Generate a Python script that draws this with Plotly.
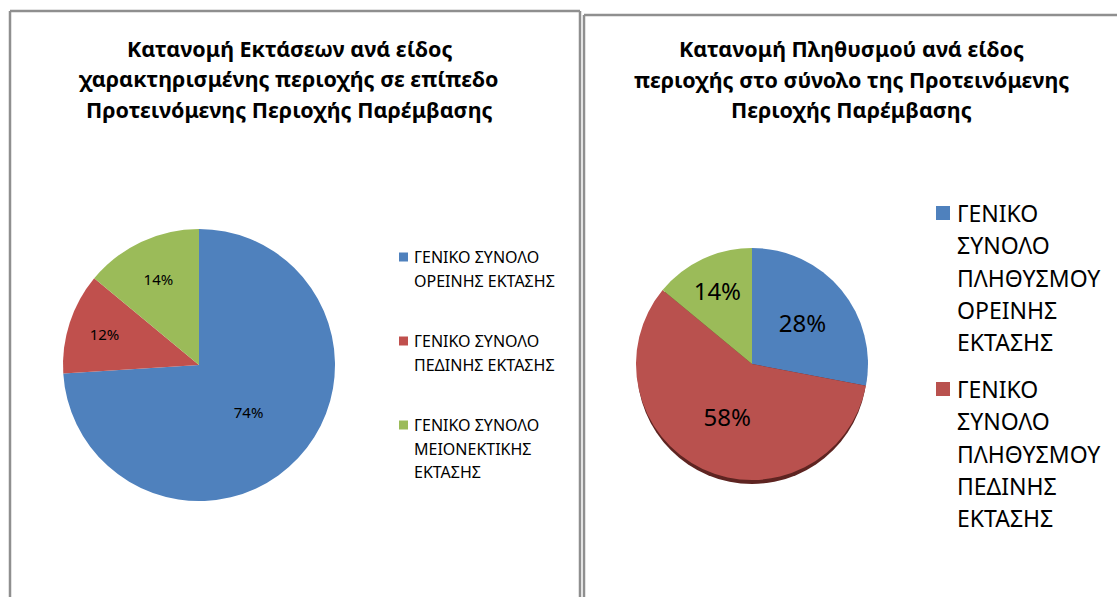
import plotly.graph_objects as go

W, H = 1117, 597

# ─── Data ───────────────────────────────────────────
area_labels = [
    "ΓΕΝΙΚΟ ΣΥΝΟΛΟ ΟΡΕΙΝΗΣ ΕΚΤΑΣΗΣ",
    "ΓΕΝΙΚΟ ΣΥΝΟΛΟ ΠΕΔΙΝΗΣ ΕΚΤΑΣΗΣ",
    "ΓΕΝΙΚΟ ΣΥΝΟΛΟ ΜΕΙΟΝΕΚΤΙΚΗΣ ΕΚΤΑΣΗΣ",
]
area_values = [74, 12, 14]
area_legend_lines = [
    ["ΓΕΝΙΚΟ ΣΥΝΟΛΟ", "ΟΡΕΙΝΗΣ ΕΚΤΑΣΗΣ"],
    ["ΓΕΝΙΚΟ ΣΥΝΟΛΟ", "ΠΕΔΙΝΗΣ ΕΚΤΑΣΗΣ"],
    ["ΓΕΝΙΚΟ ΣΥΝΟΛΟ", "ΜΕΙΟΝΕΚΤΙΚΗΣ", "ΕΚΤΑΣΗΣ"],
]

pop_labels = [
    "ΓΕΝΙΚΟ ΣΥΝΟΛΟ ΠΛΗΘΥΣΜΟΥ ΟΡΕΙΝΗΣ ΕΚΤΑΣΗΣ",
    "ΓΕΝΙΚΟ ΣΥΝΟΛΟ ΠΛΗΘΥΣΜΟΥ ΠΕΔΙΝΗΣ ΕΚΤΑΣΗΣ",
    "ΓΕΝΙΚΟ ΣΥΝΟΛΟ ΠΛΗΘΥΣΜΟΥ ΜΕΙΟΝΕΚΤΙΚΗΣ ΕΚΤΑΣΗΣ",
]
pop_values = [28, 58, 14]
pop_legend_lines = [
    ["ΓΕΝΙΚΟ", "ΣΥΝΟΛΟ", "ΠΛΗΘΥΣΜΟΥ", "ΟΡΕΙΝΗΣ", "ΕΚΤΑΣΗΣ"],
    ["ΓΕΝΙΚΟ", "ΣΥΝΟΛΟ", "ΠΛΗΘΥΣΜΟΥ", "ΠΕΔΙΝΗΣ", "ΕΚΤΑΣΗΣ"],
]

left_title = ["Κατανομή Εκτάσεων ανά είδος",
              "χαρακτηρισμένης περιοχής σε επίπεδο",
              "Προτεινόμενης Περιοχής Παρέμβασης"]
right_title = ["Κατανομή Πληθυσμού ανά είδος",
               "περιοχής στο σύνολο της Προτεινόμενης",
               "Περιοχής Παρέμβασης"]

COLORS = ["#4F81BD", "#C0504D", "#9BBB59"]
POP_COLORS = ["#4F81BD", "#B9514E", "#9BBB59"]
FONT = "Noto Sans"
BORDER = "#8f8f8f"


def px(x):
    return x / W


def py(y):
    return 1 - y / H


fig = go.Figure()

# αριστερή πίτα
fig.add_trace(
    go.Pie(
        labels=area_labels,
        values=area_values,
        sort=False,
        direction="clockwise",
        rotation=0,
        marker=dict(colors=COLORS),
        texttemplate="%{percent:.0%}",
        textposition="inside",
        insidetextorientation="horizontal",
        textfont=dict(family=FONT, size=15, color="#000000"),
        domain=dict(x=[px(63), px(335)], y=[py(501), py(229)]),
        showlegend=False,
        hoverinfo="label+percent",
    )
)

# δεξιά πίτα
fig.add_trace(
    go.Pie(
        labels=pop_labels,
        values=pop_values,
        sort=False,
        direction="clockwise",
        rotation=0,
        marker=dict(colors=POP_COLORS),
        texttemplate="%{percent:.0%}",
        textposition="inside",
        insidetextorientation="horizontal",
        textfont=dict(family=FONT, size=24, color="#000000"),
        domain=dict(x=[px(636), px(868)], y=[py(480), py(248)]),
        showlegend=False,
        hoverinfo="label+percent",
    )
)

shapes = []
# πλαίσια
for x0, y0, x1, y1 in [
    (10, 11, 10, H + 5), (10, 11, 580, 11), (580, 11, 580, H + 5),
    (584, 15, 584, H + 5), (584, 15, W + 5, 15),
]:
    shapes.append(dict(type="line", xref="paper", yref="paper",
                       x0=px(x0), y0=py(y0), x1=px(x1), y1=py(y1),
                       line=dict(color=BORDER, width=2.5)))

# σκιά κάτω από τη δεξιά πίτα
shapes.append(dict(type="circle", xref="paper", yref="paper", layer="below",
                   x0=px(637), x1=px(867), y0=py(484), y1=py(252),
                   fillcolor="#5e2421", line=dict(width=0)))

annotations = []
title_font = dict(family=FONT, size=21.5, color="#000000")
for i, line in enumerate(left_title):
    annotations.append(dict(x=px(289), y=py(48 + i * 31), xref="paper", yref="paper",
                            text=f"<b>{line}</b>", showarrow=False, font=title_font,
                            xanchor="center", yanchor="middle"))
for i, line in enumerate(right_title):
    annotations.append(dict(x=px(851), y=py(49 + i * 30.5), xref="paper", yref="paper",
                            text=f"<b>{line}</b>", showarrow=False, font=title_font,
                            xanchor="center", yanchor="middle"))

# υπόμνημα αριστερά
left_starts = [257, 341, 425]
for color, lines, y0 in zip(COLORS, area_legend_lines, left_starts):
    shapes.append(dict(type="rect", xref="paper", yref="paper",
                       x0=px(399), x1=px(408), y0=py(y0 + 4.5), y1=py(y0 - 4.5),
                       fillcolor=color, line=dict(width=0)))
    for j, line in enumerate(lines):
        annotations.append(dict(x=px(412), y=py(y0 + j * 23.5), xref="paper", yref="paper",
                                text=line, showarrow=False, xanchor="left", yanchor="middle",
                                font=dict(family=FONT, size=16, color="#000000")))

# υπόμνημα δεξιά
right_starts = [213, 389]
for color, lines, y0 in zip(POP_COLORS, pop_legend_lines, right_starts):
    shapes.append(dict(type="rect", xref="paper", yref="paper",
                       x0=px(936), x1=px(950), y0=py(y0 + 7), y1=py(y0 - 7),
                       fillcolor=color, line=dict(width=0)))
    for j, line in enumerate(lines):
        annotations.append(dict(x=px(955), y=py(y0 + j * 32.3), xref="paper", yref="paper",
                                text=line, showarrow=False, xanchor="left", yanchor="middle",
                                font=dict(family=FONT, size=23, color="#000000")))

fig.update_layout(
    width=W,
    height=H,
    autosize=False,
    margin=dict(l=0, r=0, t=0, b=0),
    paper_bgcolor="#FFFFFF",
    plot_bgcolor="#FFFFFF",
    font=dict(family=FONT, color="#000000"),
    shapes=shapes,
    annotations=annotations,
    showlegend=False,
)

fig.write_html("out.html", config={"displayModeBar": False},
               post_script="document.body.style.margin='0';")
